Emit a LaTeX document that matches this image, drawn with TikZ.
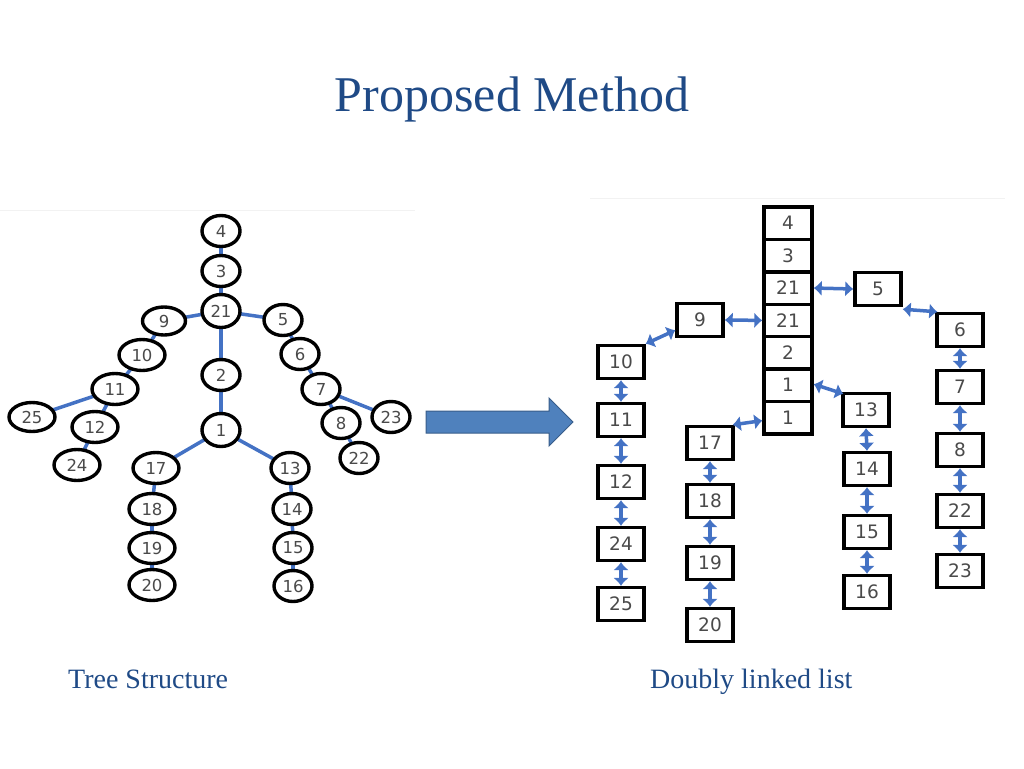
\documentclass[tikz,border=0pt]{standalone}
\usepackage{fontspec}
\setmainfont{Liberation Serif}
\newfontfamily\numfont{DejaVu Sans}
\usetikzlibrary{arrows.meta,shapes.geometric}
\definecolor{titleblue}{HTML}{1F4A86}
\definecolor{edgeblue}{HTML}{4472C4}
\definecolor{arrfill}{HTML}{4F81BD}
\definecolor{arrline}{HTML}{385D8A}
\definecolor{numgray}{HTML}{4A4A4A}
\tikzset{
  tn/.style={ellipse, draw=black, line width=3.4pt, fill=white, inner sep=0pt,
    minimum width=38pt, minimum height=31pt, font=\numfont\fontsize{16.5}{16.5}\selectfont, text=numgray},
  tnw/.style={tn, minimum width=46pt},
  te/.style={edgeblue, line width=3.5pt},
  lb/.style={rectangle, draw=black, line width=3.4pt, fill=white, inner sep=0pt,
    minimum width=46pt, minimum height=33pt, font=\numfont\fontsize{18.5}{18.5}\selectfont, text=numgray},
  cb/.style={lb, minimum width=48pt, minimum height=32.4pt},
  le/.style={edgeblue, line width=3.5pt, {Latex[length=8pt,width=16pt]}-{Latex[length=8pt,width=16pt]}},
  captxt/.style={font=\fontsize{28}{28}\selectfont, text=titleblue, anchor=base west, inner sep=0pt}
}
\begin{document}
\begin{tikzpicture}[x=1pt,y=-1pt]
\useasboundingbox (0,0) rectangle (1024,768);
% title
\node[font=\fontsize{50}{50}\selectfont, text=titleblue, anchor=base, inner sep=0pt] (title) at (512,111) {Proposed Method};
% faint image borders
\draw[black!5, line width=1pt] (0,210) -- (415,210);
\draw[black!5, line width=1pt] (590,198) -- (1005,198);
% ---------- tree: coordinates ----------
\coordinate (t4) at (221,231);
\coordinate (t3) at (221,271);
\coordinate (t21) at (221,311);
\coordinate (t9) at (164,321);
\coordinate (t5) at (283,320);
\coordinate (t10) at (142,355);
\coordinate (t6) at (300,354);
\coordinate (t2) at (221,375);
\coordinate (t11) at (115,389);
\coordinate (t7) at (321,389);
\coordinate (t25) at (32,417);
\coordinate (t12) at (95,427);
\coordinate (t1) at (221,430);
\coordinate (t8) at (341,423);
\coordinate (t23) at (391,417);
\coordinate (t22) at (359,458);
\coordinate (t24) at (77,465);
\coordinate (t17) at (156,468);
\coordinate (t13) at (290,468);
\coordinate (t18) at (152,509);
\coordinate (t14) at (292,509);
\coordinate (t19) at (152,548);
\coordinate (t15) at (293,548);
\coordinate (t20) at (152,585);
\coordinate (t16) at (293,586);
\foreach \a/\b in {t4/t3,t3/t21,t21/t9,t21/t5,t21/t2,t2/t1,t9/t10,t10/t11,t11/t25,t11/t12,t12/t24,
  t5/t6,t6/t7,t7/t8,t7/t23,t8/t22,t1/t17,t1/t13,t17/t18,t18/t19,t19/t20,t13/t14,t14/t15,t15/t16}
  \draw[te] (\a) -- (\b);
% tree nodes on top of edges
\node[tn] (n4) at (t4) {4};
\node[tn] (n3) at (t3) {3};
\node[tn, minimum height=33pt] (n21) at (t21) {21};
\node[tn, minimum width=43pt, minimum height=28pt] (n9) at (t9) {9};
\node[tn] (n5) at (t5) {5};
\node[tnw] (n10) at (t10) {10};
\node[tn] (n6) at (t6) {6};
\node[tn] (n2) at (t2) {2};
\node[tnw] (n11) at (t11) {11};
\node[tn] (n7) at (t7) {7};
\node[tnw, minimum height=29pt] (n25) at (t25) {25};
\node[tnw] (n12) at (t12) {12};
\node[tn, minimum height=33pt] (n1) at (t1) {1};
\node[tn] (n8) at (t8) {8};
\node[tn] (n23) at (t23) {23};
\node[tn] (n22) at (t22) {22};
\node[tnw] (n24) at (t24) {24};
\node[tnw] (n17) at (t17) {17};
\node[tn] (n13) at (t13) {13};
\node[tnw] (n18) at (t18) {18};
\node[tn] (n14) at (t14) {14};
\node[tnw] (n19) at (t19) {19};
\node[tn] (n15) at (t15) {15};
\node[tnw] (n20) at (t20) {20};
\node[tn] (n16) at (t16) {16};
% ---------- block arrow ----------
\filldraw[fill=arrfill, draw=arrline, line width=1pt]
  (426,411) -- (549,411) -- (549,398) -- (573,422) -- (549,446) -- (549,433) -- (426,433) -- cycle;
% ---------- list ----------
\node[cb] (c4) at (788,223.2) {4};
\node[cb] (c3) at (788,255.6) {3};
\node[cb] (c21a) at (788,288.0) {21};
\node[cb] (c21b) at (788,320.4) {21};
\node[cb] (c2) at (788,352.8) {2};
\node[cb] (c1a) at (788,385.2) {1};
\node[cb] (c1b) at (788,417.6) {1};
\node[lb] (l5) at (878,289) {5};
\node[lb] (l9) at (700,320) {9};
\node[lb] (l6) at (960,330) {6};
\node[lb] (l10) at (621,362) {10};
\node[lb] (l7) at (960,387) {7};
\node[lb] (l13) at (866,410) {13};
\node[lb] (l11) at (621,420) {11};
\node[lb] (l17) at (710,443) {17};
\node[lb] (l8) at (960,450) {8};
\node[lb] (l14) at (867,469) {14};
\node[lb] (l12) at (621,482) {12};
\node[lb] (l18) at (710,501) {18};
\node[lb] (l22) at (960,511) {22};
\node[lb] (l15) at (867,532) {15};
\node[lb] (l24) at (621,544) {24};
\node[lb] (l19) at (710,563) {19};
\node[lb] (l23) at (960,571) {23};
\node[lb] (l16) at (867,592) {16};
\node[lb] (l25) at (621,604) {25};
\node[lb] (l20) at (710,625) {20};
% list connectors
\draw[le] (c21a.east) -- (l5.west);
\draw[le] (l9.east) -- (c21b.west);
\draw[le] ([yshift=8pt]l9.south west) -- (l10.north east);
\draw[le] ([yshift=-2pt]l5.south east) -- ([xshift=2pt]l6.north west);
\draw[le] ([yshift=1pt]c1a.east) -- ([xshift=2pt,yshift=-2pt]l13.north west);
\draw[le] ([yshift=-3pt]c1b.west) -- ([xshift=-2pt]l17.north east);
\foreach \a/\b in {l10/l11,l11/l12,l12/l24,l24/l25,l17/l18,l18/l19,l19/l20,l13/l14,l14/l15,l15/l16,l6/l7,l7/l8,l8/l22,l22/l23}
  \draw[le] (\a.south) -- (\b.north);
% captions
\node[captxt] (capL) at (68,688) {Tree Structure};
\node[captxt] (capR) at (650,688) {Doubly linked list};
\end{tikzpicture}
\end{document}
